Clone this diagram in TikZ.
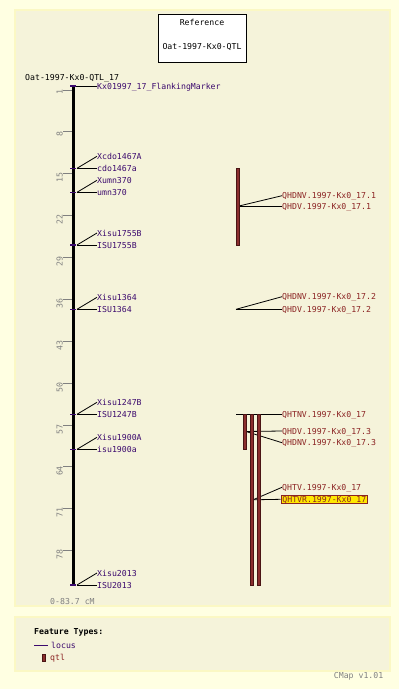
\documentclass[tikz,border=0pt]{standalone}
\usepackage{fontspec}
\newfontfamily\mapfont{DejaVu Sans Mono}
\definecolor{outerbg}{HTML}{FFFFE2}
\definecolor{panelbg}{HTML}{F5F3DA}
\definecolor{panelrim}{HTML}{FBF8C4}
\definecolor{mcol}{HTML}{3C0A6E}
\definecolor{qcol}{HTML}{8B2323}
\definecolor{barfill}{HTML}{8B2E2E}
\definecolor{bardraw}{HTML}{4A1414}
\definecolor{greyc}{HTML}{808080}
\definecolor{hilite}{HTML}{FFE800}
\tikzset{
  txt/.style={font=\mapfont\fontsize{8.2}{9}\selectfont, inner sep=0pt, text height=6pt, text depth=0pt},
  mlabel/.style={txt, text=mcol, anchor=west},
  qlabel/.style={txt, text=qcol, anchor=west},
  mline/.style={draw=black, line width=0.8pt},
  mtick/.style={draw=mcol, line width=1.2pt},
  qbar/.style={draw=bardraw, fill=barfill, line width=0.7pt},
  tickline/.style={draw=greyc, line width=0.8pt},
  ticklabel/.style={txt, text=greyc, rotate=90, anchor=east},
  panel/.style={fill=panelbg, draw=panelrim, line width=1.5pt}
}
\begin{document}
\begin{tikzpicture}[x=1pt,y=-1pt]
\useasboundingbox (0,0) rectangle (399,689);
\fill[outerbg] (0,0) rectangle (399,689);
% panels
\path[panel] (15,10) rectangle (390,606);
\path[panel] (15,617) rectangle (390,671);
% title box
\node[draw=black, fill=white, line width=0.8pt, minimum width=88pt, minimum height=48pt, inner sep=0pt] (refbox) at (202,38.3) {};
\node[txt] (reftitle) at (202,22.3) {Reference};
\node[txt] (refname) at (202,46) {Oat-1997-Kx0-QTL};
% map name
\node[txt, anchor=west] (mapname) at (25,77.7) {Oat-1997-Kx0-QTL\_17};
% ticks
\foreach \c in {1,8,15,22,29,36,43,50,57,64,71,78} {
  \pgfmathsetmacro{\ty}{90+(\c-1)*5.982}
  \coordinate (ta\c) at (63,\ty);
  \coordinate (tb\c) at (73,\ty);
  \draw[tickline] (ta\c) -- (tb\c);
  \node[ticklabel] (tl\c) at (59.5,\ty-1) {\c};
}
% chromosome
\coordinate (ctop) at (73.3,86);
\coordinate (cbot) at (73.3,585);
\draw[black, line width=2.4pt] (ctop) -- (cbot);
% flanking marker
\coordinate (fm) at (75,86);
\node[mlabel] (flank) at (97,86) {Kx01997\_17\_FlankingMarker};
\draw[mline] (fm) -- (flank.west);
\draw[mtick] (70,86) -- (76,86);
% marker pairs
\foreach \y/\a/\b [count=\i] in {168.3/Xcdo1467A/cdo1467a, 192.3/Xumn370/umn370, 245/Xisu1755B/ISU1755B, 309.3/Xisu1364/ISU1364, 414.3/Xisu1247B/ISU1247B, 449.3/Xisu1900A/isu1900a, 585/Xisu2013/ISU2013} {
  \coordinate (mk\i) at (77,\y);
  \node[mlabel] (mu\i) at (97,\y-12) {\a};
  \node[mlabel] (ml\i) at (97,\y) {\b};
  \draw[mline] (mk\i) -- (mu\i.west);
  \draw[mline] (mk\i) -- (ml\i.west);
  \draw[mtick] (70,\y) -- (76,\y);
}
% QTL 17.1
\coordinate (q1) at (239,206);
\node[qlabel] (q1a) at (282,195.7) {QHDNV.1997-Kx0\_17.1};
\node[qlabel] (q1b) at (282,206) {QHDV.1997-Kx0\_17.1};
\draw[mline] (q1) -- (q1a.west);
\draw[mline] (q1) -- (q1b.west);
% QTL 17.2
\coordinate (q2) at (236,309.3);
\node[qlabel] (q2a) at (282,296.7) {QHDNV.1997-Kx0\_17.2};
\node[qlabel] (q2b) at (282,309.3) {QHDV.1997-Kx0\_17.2};
\draw[mline] (q2) -- (q2a.west);
\draw[mline] (q2) -- (q2b.west);
% QHTNV
\coordinate (q3) at (236,414.3);
\node[qlabel] (q3a) at (282,414.3) {QHTNV.1997-Kx0\_17};
\draw[mline] (q3) -- (q3a.west);
% QTL 17.3
\coordinate (q4) at (246,431.5);
\node[qlabel] (q4a) at (282,431) {QHDV.1997-Kx0\_17.3};
\node[qlabel] (q4b) at (282,442.7) {QHDNV.1997-Kx0\_17.3};
\draw[mline] (q4) -- (q4a.west);
\draw[mline] (q4) -- (q4b.west);
% QHTV / QHTVR
\coordinate (q5) at (253,499.8);
\node[qlabel] (q5a) at (282,487.3) {QHTV.1997-Kx0\_17};
\node[qlabel, fill=hilite, draw=qcol, line width=0.8pt, inner xsep=1.5pt, inner ysep=1.2pt] (q5b) at (280.5,499.3) {QHTVR.1997-Kx0\_17};
\draw[mline] (q5) -- (q5b.west);
\draw[mline] (q5) -- (q5a.west);
% bars
\path[qbar] (236.7,168.3) rectangle (239.5,245.7);
\path[qbar] (243.3,414.3) rectangle (246.5,449.3);
\path[qbar] (250.2,414.3) rectangle (253.4,585.3);
\path[qbar] (257.3,414.3) rectangle (260.5,585.3);
% scale note
\node[txt, text=greyc, anchor=west] (range) at (50,601) {0-83.7 cM};
% legend
\node[txt, anchor=west, font=\mapfont\bfseries\fontsize{8.2}{9}\selectfont] (ftitle) at (34,631.7) {Feature Types:};
\coordinate (lg1) at (34,645.3);
\node[mlabel] (locus) at (51,645.3) {locus};
\draw[mcol, line width=0.9pt] (lg1) -- ++(14,0);
\node[qbar, minimum width=3pt, minimum height=7pt, inner sep=0pt] (qtlsym) at (44.2,657.5) {};
\node[qlabel] (qtl) at (50,657.7) {qtl};
\node[txt, text=greyc, anchor=east] (cmap) at (383.5,675.3) {CMap v1.01};
\end{tikzpicture}
\end{document}
